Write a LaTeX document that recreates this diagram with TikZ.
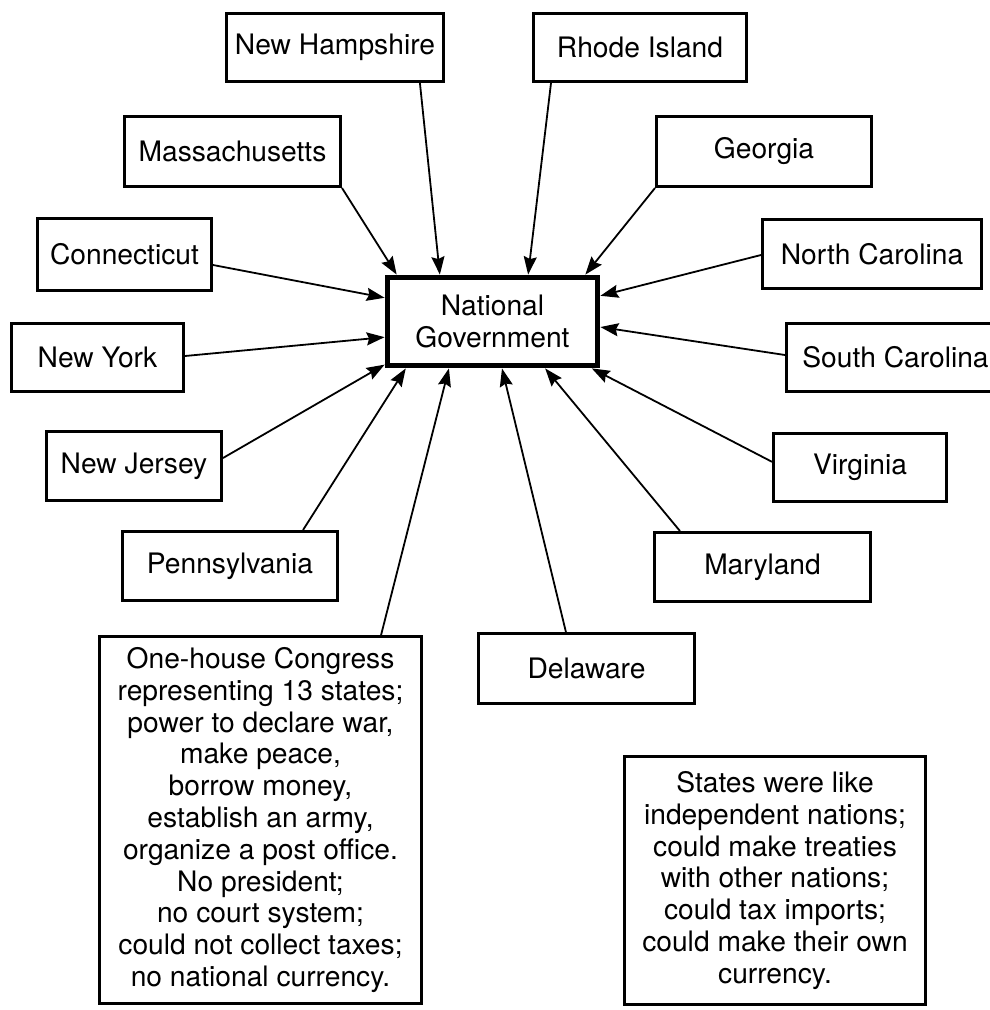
\documentclass[tikz,border=0pt]{standalone}
\usepackage{fontspec}
\setmainfont{TeX Gyre Heros}
\usetikzlibrary{arrows.meta,calc}

% box from corner coordinates: name, x1, y1, x2, y2, text
\newcommand{\statenode}[7][]{%
  \pgfmathsetmacro\bxcx{(#3+#5)/2}%
  \pgfmathsetmacro\bxcy{(#4+#6)/2}%
  \pgfmathsetmacro\bxw{(#5-#3-2.8)*0.5}%
  \pgfmathsetmacro\bxh{(#6-#4-2.8)*0.5}%
  \node[statebox,#1,minimum width=\bxw pt,minimum height=\bxh pt] (#2) at (\bxcx,\bxcy) {#7};}

\tikzset{
  statebox/.style={draw=black, line width=1.4pt, fill=white, inner sep=0pt,
    align=center, font=\fontsize{14.1}{15.9}\selectfont},
  govbox/.style={line width=2.8pt},
  arr/.style={draw=black, line width=0.9pt,
    -{Stealth[length=9pt,width=6.5pt,inset=1.2pt]}},
}

\begin{document}
\begin{tikzpicture}[x=0.5pt,y=-0.5pt]
  \useasboundingbox (0,0) rectangle (989,1010);
  \fill[white] (0,0) rectangle (989,1010);

  % central box
  \statenode[govbox]{ng}{386}{276}{599}{367}{National\\Government}

  % states
  \statenode{nh}{225}{12}{445}{83}{New Hampshire}
  \statenode{ri}{532}{12}{748}{83}{Rhode Island}
  \statenode{ma}{123}{115}{342}{188}{Massachusetts}
  \statenode{ga}{655}{115}{873}{188}{Georgia}
  \statenode{ct}{36}{217}{213}{292}{Connecticut}
  \statenode{nc}{761}{218}{983}{290}{North Carolina}
  \statenode{ny}{10}{322}{185}{393}{New York}
  \statenode{sc}{785}{322}{1006}{393}{South Carolina}
  \statenode{nj}{45}{430}{223}{502}{New Jersey}
  \statenode{va}{772}{432}{948}{503}{Virginia}
  \statenode{pa}{121}{530}{339}{602}{Pennsylvania}
  \statenode{md}{653}{531}{872}{603}{Maryland}
  \statenode{de}{477}{632}{696}{705}{Delaware}

  % notes
  \statenode{cong}{98}{635}{423}{1005}{One-house Congress\\representing 13 states;\\power to declare war,\\make peace,\\borrow money,\\establish an army,\\organize a post office.\\No president;\\no court system;\\could not collect taxes;\\no national currency.}
  \statenode{indep}{623}{755}{927}{1006}{States were like\\independent nations;\\could make treaties\\with other nations;\\could tax imports;\\could make their own\\currency.}

  % connectors into the national government
  \draw[arr] ($(nh.south west)!0.886!(nh.south east)$) -- ($(ng.north west)!0.256!(ng.north east)$);
  \draw[arr] ($(ri.south west)!0.088!(ri.south east)$) -- ($(ng.north west)!0.665!(ng.north east)$);
  \draw[arr] (ma.south east) -- ($(ng.north west)!0.056!(ng.north east)$);
  \draw[arr] (ga.south west) -- ($(ng.north west)!0.93!(ng.north east)$);
  \draw[arr] ($(ct.north east)!0.64!(ct.south east)$) -- ($(ng.north west)!0.247!(ng.south west)$);
  \draw[arr] ($(nc.north west)!0.514!(nc.south west)$) -- ($(ng.north east)!0.226!(ng.south east)$);
  \draw[arr] ($(ny.north east)!0.479!(ny.south east)$) -- ($(ng.north west)!0.667!(ng.south west)$);
  \draw[arr] ($(sc.north west)!0.465!(sc.south west)$) -- ($(ng.north east)!0.559!(ng.south east)$);
  \draw[arr] ($(nj.north east)!0.389!(nj.south east)$) -- ($(ng.north west)!0.96!(ng.south west)$);
  \draw[arr] ($(va.north west)!0.42!(va.south west)$) -- ($(ng.south west)!0.96!(ng.south east)$);
  \draw[arr] ($(pa.north west)!0.835!(pa.north east)$) -- ($(ng.south west)!0.098!(ng.south east)$);
  \draw[arr] ($(md.north west)!0.123!(md.north east)$) -- ($(ng.south west)!0.744!(ng.south east)$);
  \draw[arr] ($(de.north west)!0.406!(de.north east)$) -- ($(ng.south west)!0.544!(ng.south east)$);
  \draw[arr] ($(cong.north west)!0.871!(cong.north east)$) -- ($(ng.south west)!0.298!(ng.south east)$);
\end{tikzpicture}
\end{document}
